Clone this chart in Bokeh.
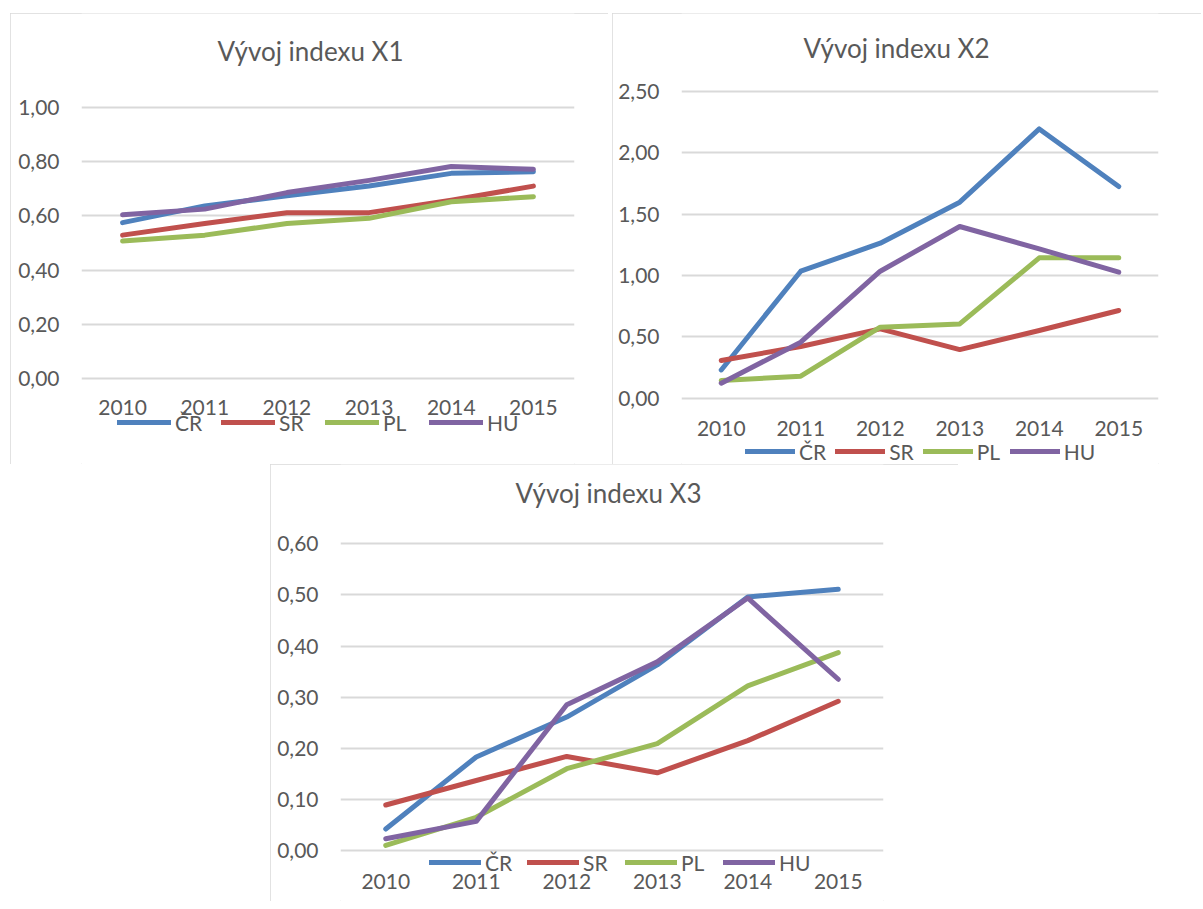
from bokeh.plotting import figure
from bokeh.models import (Range1d, FactorRange, FixedTicker, CustomJSTickFormatter,
                          Legend, LegendItem, Label, Spacer)
from bokeh.layouts import column, row
from bokeh.embed import file_html
from bokeh.resources import INLINE

# ---------------- data ----------------
years = ["2010", "2011", "2012", "2013", "2014", "2015"]
series = ["ČR", "SR", "PL", "HU"]
colors = ["#4F81BD", "#C0504D", "#9BBB59", "#8064A2"]

x1_cr = [0.575, 0.637, 0.674, 0.710, 0.757, 0.763]
x1_sr = [0.529, 0.572, 0.612, 0.612, 0.658, 0.710]
x1_pl = [0.507, 0.529, 0.572, 0.591, 0.652, 0.671]
x1_hu = [0.604, 0.625, 0.686, 0.731, 0.782, 0.772]

x2_cr = [0.230, 1.034, 1.262, 1.596, 2.193, 1.724]
x2_sr = [0.307, 0.421, 0.565, 0.396, 0.551, 0.714]
x2_pl = [0.144, 0.179, 0.578, 0.605, 1.143, 1.143]
x2_hu = [0.122, 0.456, 1.034, 1.398, 1.216, 1.026]

x3_cr = [0.042, 0.183, 0.261, 0.363, 0.496, 0.511]
x3_sr = [0.089, 0.137, 0.184, 0.152, 0.215, 0.292]
x3_pl = [0.010, 0.065, 0.160, 0.209, 0.322, 0.387]
x3_hu = [0.023, 0.057, 0.285, 0.369, 0.494, 0.335]

titles = ["Vývoj indexu X1", "Vývoj indexu X2", "Vývoj indexu X3"]
y_ticks1 = [0.0, 0.2, 0.4, 0.6, 0.8, 1.0]
y_ticks2 = [0.0, 0.5, 1.0, 1.5, 2.0, 2.5]
y_ticks3 = [0.0, 0.1, 0.2, 0.3, 0.4, 0.5, 0.6]

FONT = "Lato"
TXT = "#595959"
GRID = "#D9D9D9"


def make_chart(title, data, ticks, w, h, lr, px_top, px_zero, tpos, leg, xstand=18):
    # the frame fills the whole height of the chart box; the value range is
    # chosen so that the top tick and zero sit px_top / px_zero pixels from the top
    ppu = (px_zero - px_top) / (ticks[-1] - ticks[0])
    y0 = ticks[0] - (h - px_zero) / ppu
    y1 = ticks[-1] + px_top / ppu
    p = figure(width=w, height=h, x_range=FactorRange(*years),
               y_range=Range1d(y0, y1), title_location=None,
               output_backend="svg", toolbar_location=None,
               min_border_left=lr[0], min_border_right=lr[1],
               min_border_top=0, min_border_bottom=0,
               background_fill_color="white", border_fill_color="white",
               outline_line_color=None,
               styles={"outline": "1.5px solid #D9D9D9", "outline-offset": "-1.5px"})
    renderers = []
    for vals, c in zip(data, colors):
        r = p.line(years, vals, line_color=c, line_width=5,
                   line_cap="round", line_join="round")
        renderers.append(r)

    p.xgrid.grid_line_color = None
    p.ygrid.grid_line_color = GRID
    p.ygrid.grid_line_width = 2
    p.yaxis.ticker = FixedTicker(ticks=ticks)
    p.yaxis.formatter = CustomJSTickFormatter(code="return tick.toFixed(2).replace('.', ',');")
    p.xaxis.fixed_location = ticks[0]
    for ax in (p.xaxis, p.yaxis):
        ax.axis_line_color = None
        ax.major_tick_line_color = None
        ax.minor_tick_line_color = None
        ax.major_tick_out = 0
        ax.major_tick_in = 0
        ax.major_label_text_font = FONT
        ax.major_label_text_font_size = "21px"
        ax.major_label_text_color = TXT
    p.yaxis.major_label_standoff = 22
    p.xaxis.major_label_standoff = xstand

    p.add_layout(Label(x=tpos[0], y=tpos[1], x_units="screen", y_units="screen",
                       text=title, text_align="center", text_baseline="middle",
                       text_font=FONT, text_font_size="26px", text_color=TXT))

    items = [LegendItem(label=s, renderers=[r]) for s, r in zip(series, renderers)]
    legend = Legend(items=items, orientation="horizontal", location=leg[0],
                    glyph_width=leg[1], glyph_height=26, label_width=leg[2],
                    label_height=26, label_standoff=4, spacing=leg[3],
                    padding=0, margin=0, border_line_color=None,
                    background_fill_alpha=0,
                    label_text_font=FONT, label_text_font_size="21px",
                    label_text_color=TXT)
    p.add_layout(legend)
    return p


p1 = make_chart(titles[0], [x1_cr, x1_sr, x1_pl, x1_hu], y_ticks1,
                598, 451, (71, 34), 94, 365, (229, 414),
                ((36, 29), 54, 36, 10), xstand=21)
p2 = make_chart(titles[1], [x2_cr, x2_sr, x2_pl, x2_hu], y_ticks2,
                589, 451, (69, 43), 77.7, 384.7, (215, 417),
                ((64, 0), 50, 24, 9), xstand=23)
p3 = make_chart(titles[2], [x3_cr, x3_sr, x3_pl, x3_hu], y_ticks3,
                688, 437, (70, 75), 79.3, 386, (268, 409),
                ((89, 26), 52, 30, 12), xstand=23)

layout = column(Spacer(height=13),
                row(Spacer(width=10), p1, Spacer(width=4), p2),
                row(Spacer(width=270), p3))

open("out.html", "w").write(file_html(layout, INLINE))
